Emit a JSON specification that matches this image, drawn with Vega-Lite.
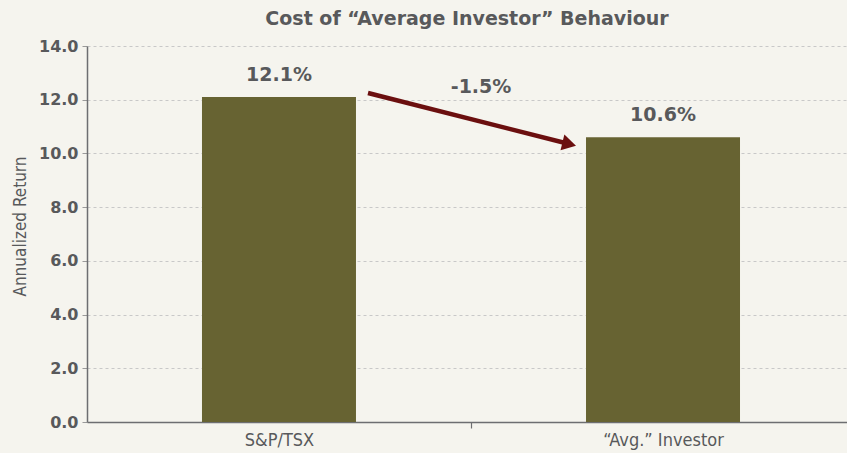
{
  "$schema": "https://vega.github.io/schema/vega-lite/v6.json",
  "width": 760,
  "height": 376,
  "autosize": "none",
  "padding": {"left": 87, "top": 46, "right": 0, "bottom": 31},
  "background": "#f5f4ee",
  "config": {
    "view": {"stroke": null},
    "font": "DejaVu Sans"
  },
  "title": {
    "text": "Cost of “Average Investor” Behaviour",
    "font": "DejaVu Sans",
    "fontSize": 19,
    "fontWeight": "bold",
    "color": "#58595b",
    "anchor": "middle",
    "offset": 9
  },
  "datasets": {
    "bars": [
      {"cat": "S&P/TSX", "value": 12.1, "label": "12.1%"},
      {"cat": "“Avg.” Investor", "value": 10.6, "label": "10.6%"}
    ],
    "arrow": [
      {"x": 0.7395, "y": 12.25, "x2": 1.269, "y2": 10.35, "hx": 1.269, "hy": 10.35, "tx": 1.037, "ty": 12.47, "label": "-1.5%"}
    ]
  },
  "layer": [
    {
      "data": {"name": "bars"},
      "encoding": {
        "x": {
          "field": "cat", "type": "nominal", "sort": null,
          "scale": {"paddingInner": 0.599, "paddingOuter": 0.289, "align": 0.518},
          "axis": {
            "title": null, "labelAngle": 0, "tickOffset": 192, "labelOffset": -192,
            "labelFont": "DejaVu Sans Condensed", "labelFontSize": 18, "labelColor": "#58595b",
            "domainColor": "#6d6e71", "domainWidth": 1.5, "tickColor": "#6d6e71", "tickWidth": 1.2, "tickSize": 6,
            "labelPadding": 3
          }
        },
        "y": {
          "field": "value", "type": "quantitative",
          "scale": {"domain": [0, 14], "nice": false},
          "axis": {
            "title": "Annualized Return", "values": [0, 2, 4, 6, 8, 10, 12, 14], "format": ".1f",
            "labelFont": "DejaVu Sans", "labelFontSize": 16, "labelFontWeight": "bold", "labelColor": "#58595b",
            "titleFont": "DejaVu Sans Condensed", "titleFontSize": 17, "titleFontWeight": "normal", "titleColor": "#58595b",
            "titlePadding": 9, "titleY": 180,
            "domainColor": "#6d6e71", "domainWidth": 1.5, "tickColor": "#9a9a9a", "tickSize": 5, "labelPadding": 4,
            "grid": true, "gridColor": "#c8c8c8", "gridDash": [3, 3], "gridWidth": 1
          }
        }
      },
      "layer": [
        {"mark": {"type": "bar", "color": "#676332"}},
        {
          "mark": {"type": "text", "dy": -22, "baseline": "middle", "font": "DejaVu Sans", "fontSize": 19, "fontWeight": "bold", "color": "#58595b"},
          "encoding": {"text": {"field": "label"}}
        }
      ]
    },
    {
      "data": {"name": "arrow"},
      "encoding": {
        "y": {"field": "y", "type": "quantitative"}
      },
      "layer": [
        {
          "mark": {"type": "rule", "color": "#6b0f0f", "strokeWidth": 4.5},
          "encoding": {
            "x": {"field": "x", "type": "quantitative", "scale": {"domain": [0, 2], "nice": false, "zero": false}, "axis": null},
            "x2": {"field": "x2"},
            "y": {"field": "y", "type": "quantitative"},
            "y2": {"field": "y2"}
          }
        },
        {
          "mark": {"type": "point", "shape": "triangle-right", "filled": true, "color": "#6b0f0f", "opacity": 1, "size": 260, "angle": 14},
          "encoding": {
            "x": {"field": "hx", "type": "quantitative", "scale": {"domain": [0, 2], "nice": false, "zero": false}, "axis": null},
            "y": {"field": "hy", "type": "quantitative"}
          }
        },
        {
          "mark": {"type": "text", "baseline": "middle", "font": "DejaVu Sans", "fontSize": 19, "fontWeight": "bold", "color": "#58595b"},
          "encoding": {
            "x": {"field": "tx", "type": "quantitative", "scale": {"domain": [0, 2], "nice": false, "zero": false}, "axis": null},
            "y": {"field": "ty", "type": "quantitative"},
            "text": {"field": "label"}
          }
        }
      ]
    }
  ],
  "resolve": {"scale": {"x": "independent"}}
}
